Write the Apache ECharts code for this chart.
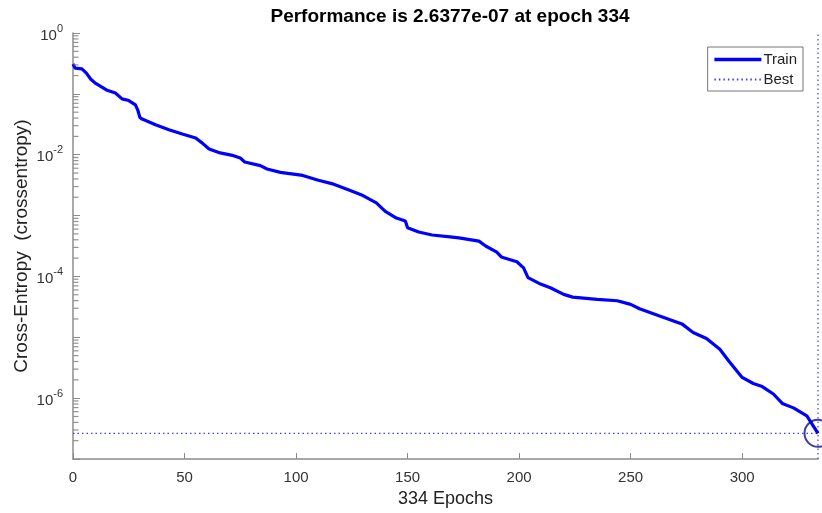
<!DOCTYPE html>
<html>
<head>
<meta charset="utf-8">
<script src="https://cdn.jsdelivr.net/npm/echarts@6/dist/echarts.min.js"></script>
<style>
  html, body { margin: 0; padding: 0; background: #fff; }
  #chart { width: 822px; height: 513px; }
</style>
</head>
<body>
<div id="chart"></div>
<script>
// 训练记录
let epochs = [0, 1, 4, 6, 8, 10, 15, 19, 22, 25, 28, 29, 30, 31, 37, 43, 49, 55, 58, 61, 66, 72, 75, 77, 84,
    87, 93, 103, 110, 116, 124, 130, 136, 140, 145, 149, 150, 155, 161, 169, 173, 182, 185, 190, 192, 199,
    202, 204, 209, 214, 220, 224, 235, 244, 250, 254, 263, 273, 278, 284, 290, 294, 300, 305, 309, 314,
    318, 323, 329, 334];
let loss = [0.310, 0.264, 0.257, 0.219, 0.174, 0.150, 0.116, 0.103, 0.0828, 0.0776, 0.0661, 0.0547, 0.0409,
    0.0385, 0.0310, 0.0257, 0.0219, 0.0188, 0.0155, 0.0124, 0.0107, 0.00964, 0.00881, 0.00759, 0.00661,
    0.00583, 0.00513, 0.00457, 0.00380, 0.00335, 0.00260, 0.00213, 0.00162, 0.00117, 9.12e-4, 8.13e-4,
    6.31e-4, 5.37e-4, 4.79e-4, 4.47e-4, 4.31e-4, 3.80e-4, 3.16e-4, 2.51e-4, 2.09e-4, 1.74e-4, 1.38e-4,
    9.55e-5, 7.67e-5, 6.52e-5, 5.07e-5, 4.57e-5, 4.20e-5, 3.98e-5, 3.47e-5, 2.95e-5, 2.24e-5, 1.66e-5,
    1.20e-5, 9.55e-6, 6.35e-6, 4.07e-6, 2.19e-6, 1.74e-6, 1.55e-6, 1.17e-6, 8.18e-7, 6.92e-7, 5.13e-7,
    2.6377e-7];
let bestEpoch = 334;
let bestPerf = 2.6377e-7;
let yMin = 1e-7, yMax = 1;
let xMax = 334;

// 对数次刻度 2..9 x 10^n
let minorTicks = [];
for (let e = -7; e < 0; e++) {
    for (let m = 2; m <= 9; m++) minorTicks.push(m * Math.pow(10, e));
}

let chart = echarts.init(document.getElementById('chart'));
let font = 'Liberation Sans, Arial, sans-serif';
let axisGray = '#8c8c8c';
let bestColor = '#3c3cff';

let option = {
    animation: false,
    backgroundColor: '#fff',
    title: {
        text: 'Performance is ' + bestPerf.toExponential(4).replace('e-', 'e-0') + ' at epoch ' + bestEpoch,
        left: 445,
        textAlign: 'center',
        top: 2,
        textStyle: { fontFamily: font, fontSize: 19, fontWeight: 'bold', color: '#000' }
    },
    legend: {
        data: [
            { name: 'Train', lineStyle: { width: 3.5 } },
            { name: 'Best' }
        ],
        orient: 'vertical',
        right: 19,
        top: 47,
        itemWidth: 47,
        itemHeight: 10,
        itemGap: 5,
        padding: [5, 6, 4, 5],
        borderColor: '#777',
        borderWidth: 1,
        backgroundColor: '#fff',
        itemStyle: { opacity: 0 },
        textStyle: { fontFamily: font, fontSize: 15, color: '#222', padding: [0, 0, 0, -3] }
    },
    grid: { left: 73, right: 4, top: 33, bottom: 54 },
    xAxis: {
        type: 'value',
        min: 0,
        max: xMax,
        interval: 50,
        name: xMax + ' Epochs',
        nameLocation: 'middle',
        nameGap: 31,
        nameMoveOverlap: false,
        nameTextStyle: { fontFamily: font, fontSize: 18, color: '#222' },
        axisLine: { lineStyle: { color: axisGray, width: 1.5 } },
        axisTick: { inside: true, length: 6, lineStyle: { color: axisGray } },
        axisLabel: { fontFamily: font, fontSize: 15, color: '#333', margin: 11, showMaxLabel: false },
        splitLine: { show: false }
    },
    yAxis: {
        type: 'log',
        logBase: 10,
        min: yMin,
        max: yMax,
        interval: 1,
        name: 'Cross-Entropy  (crossentropy)',
        nameLocation: 'middle',
        nameGap: 42,
        nameMoveOverlap: false,
        nameTextStyle: { fontFamily: font, fontSize: 19, color: '#222' },
        axisLine: { lineStyle: { color: axisGray, width: 1.5 } },
        axisTick: { inside: true, length: 7, lineStyle: { color: axisGray } },
        axisLabel: {
            margin: 10,
            formatter: function (v) {
                let e = Math.round(Math.log10(v));
                if (e % 2 !== 0) return '';
                return '{b|10}{s|' + e + '}';
            },
            rich: {
                b: { fontFamily: font, fontSize: 15, color: '#333', lineHeight: 20, verticalAlign: 'bottom' },
                s: { fontFamily: font, fontSize: 11, color: '#333', lineHeight: 20, verticalAlign: 'top' }
            }
        },
        splitLine: { show: false }
    },
    series: [
        {
            name: 'Train',
            type: 'line',
            symbol: 'none',
            data: epochs.map((e, i) => [e, loss[i]]),
            lineStyle: { color: '#0000ff', width: 3.2 },
            itemStyle: { color: '#0000ff' },
            z: 5
        },
        {
            name: 'Best',
            type: 'line',
            symbol: 'none',
            data: [[0, bestPerf], [xMax, bestPerf]],
            lineStyle: { color: bestColor, width: 1.2, type: [1.5, 3] },
            itemStyle: { color: bestColor },
            z: 3
        },
        {
            name: 'Best',
            type: 'line',
            symbol: 'none',
            data: [[bestEpoch, yMin], [bestEpoch, yMax]],
            lineStyle: { color: bestColor, width: 1.2, type: [1.5, 3] },
            itemStyle: { color: bestColor },
            z: 3
        },
        {
            name: 'BestPoint',
            type: 'scatter',
            data: [[bestEpoch, bestPerf]],
            symbol: 'circle',
            symbolSize: 27,
            itemStyle: { color: 'rgba(0,0,0,0)', borderColor: '#0b0b8a', borderWidth: 2 },
            clip: false,
            z: 6
        },
        {
            name: 'minorTick',
            type: 'scatter',
            data: minorTicks.map(v => [0, v]),
            symbol: 'rect',
            symbolSize: [5, 1.2],
            symbolOffset: [3, 0],
            itemStyle: { color: '#777' },
            clip: false,
            silent: true,
            z: 8
        }
    ]
};
chart.setOption(option);
</script>
</body>
</html>
